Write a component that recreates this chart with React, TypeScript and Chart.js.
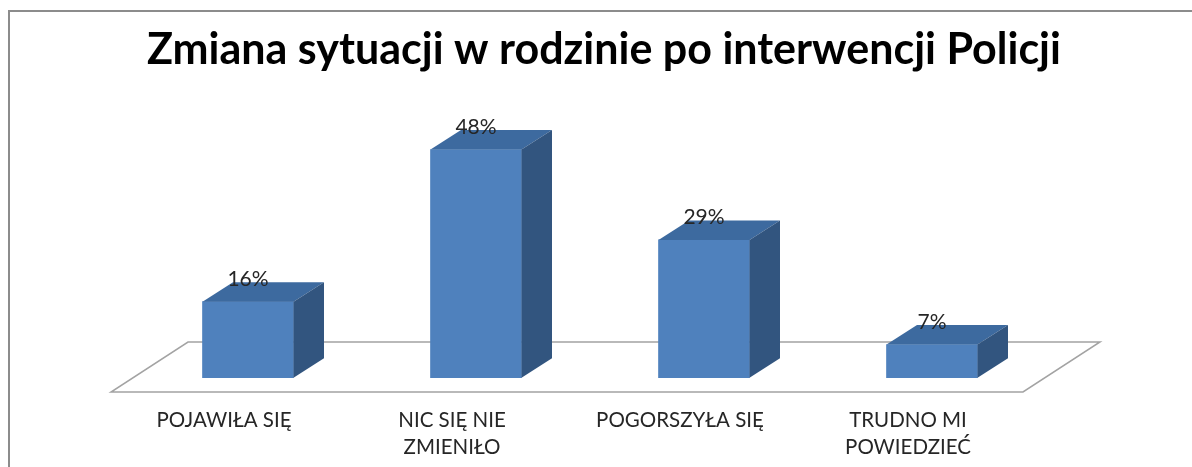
import React, { useEffect, useRef } from "react";
import { Chart, registerables } from "chart.js";

Chart.register(...registerables);

const chartTitle = "Zmiana sytuacji w rodzinie po interwencji Policji";
const categories: string[][] = [
  ["POJAWIŁA SIĘ"],
  ["NIC SIĘ NIE", "ZMIENIŁO"],
  ["POGORSZYŁA SIĘ"],
  ["TRUDNO MI", "POWIEDZIEĆ"],
];
const values: number[] = [16, 48, 29, 7];
const valueLabels: string[] = values.map((v) => `${v}%`);

const FRONT = "#4F81BD";
const TOP = "#3D6A9F";
const SIDE = "#32557F";
const DX = 30.5;
const DY = 19.5;

const bar3d = {
  id: "bar3d",
  beforeDraw(chart: any) {
    const ctx = chart.ctx;
    ctx.save();
    ctx.fillStyle = "#ffffff";
    ctx.fillRect(0, 0, chart.width, chart.height);
    ctx.strokeStyle = "#8c8c8c";
    ctx.lineWidth = 2;
    ctx.beginPath();
    ctx.moveTo(9, chart.height);
    ctx.lineTo(9, 11);
    ctx.lineTo(chart.width, 11);
    ctx.stroke();
    ctx.restore();
  },
  beforeDatasetsDraw(chart: any) {
    const ctx = chart.ctx;
    const { left, right, bottom } = chart.chartArea;
    ctx.save();
    ctx.beginPath();
    ctx.moveTo(left - 23, bottom);
    ctx.lineTo(right - 23, bottom);
    ctx.lineTo(right + 54, bottom - 50);
    ctx.lineTo(left + 54, bottom - 50);
    ctx.closePath();
    ctx.fillStyle = "#ffffff";
    ctx.fill();
    ctx.strokeStyle = "#a3a3a3";
    ctx.lineWidth = 1.5;
    ctx.stroke();
    ctx.restore();
  },
  afterDatasetsDraw(chart: any) {
    const ctx = chart.ctx;
    const meta = chart.getDatasetMeta(0);
    ctx.save();
    meta.data.forEach((bar: any, i: number) => {
      const { x, y, base, width } = bar.getProps(["x", "y", "base", "width"], true);
      const l = x - width / 2;
      const r = x + width / 2;
      ctx.beginPath();
      ctx.moveTo(l, y);
      ctx.lineTo(r, y);
      ctx.lineTo(r + DX, y - DY);
      ctx.lineTo(l + DX, y - DY);
      ctx.closePath();
      ctx.fillStyle = TOP;
      ctx.fill();
      ctx.beginPath();
      ctx.moveTo(r, y);
      ctx.lineTo(r + DX, y - DY);
      ctx.lineTo(r + DX, base - DY);
      ctx.lineTo(r, base);
      ctx.closePath();
      ctx.fillStyle = SIDE;
      ctx.fill();
      ctx.fillStyle = "#262626";
      ctx.font = "21px Lato, 'Open Sans', sans-serif";
      ctx.textAlign = "center";
      ctx.textBaseline = "middle";
      ctx.fillText(valueLabels[i], x, y - DY - 3);
    });
    ctx.restore();
  },
};

export default function App() {
  const ref = useRef<HTMLCanvasElement | null>(null);
  useEffect(() => {
    if (!ref.current) return;
    const chart = new Chart(ref.current, {
      type: "bar",
      data: {
        labels: categories,
        datasets: [
          {
            data: values,
            backgroundColor: FRONT,
            borderWidth: 0,
            barThickness: 91,
            yAxisID: "y",
          },
        ],
      },
      options: {
        responsive: false,
        animation: false,
        devicePixelRatio: 1,
        layout: { padding: { left: 16, right: 0, top: 0, bottom: 0 } },
        plugins: {
          legend: { display: false },
          tooltip: { enabled: false },
          title: {
            display: true,
            text: chartTitle,
            color: "#000000",
            font: { family: "Lato, 'Open Sans', sans-serif", size: 43, weight: "bold", lineHeight: 1.2 },
            padding: { top: 24, bottom: 64.5 },
          },
        },
        scales: {
          x: {
            type: "category",
            offset: true,
            grid: { display: false, drawTicks: false },
            border: { display: false },
            ticks: {
              color: "#262626",
              font: { family: "Lato, 'Open Sans', sans-serif", size: 20.5, lineHeight: 1.32 },
              padding: 15,
              labelOffset: -24,
              maxRotation: 0,
              minRotation: 0,
              autoSkip: false,
            },
            afterFit: (s: any) => {
              s.height = 75;
            },
          },
          y: {
            position: "left",
            min: -3,
            max: 50,
            display: true,
            grid: { display: false, drawTicks: false },
            border: { display: false },
            ticks: { display: false },
            afterFit: (s: any) => {
              s.width = 118;
            },
          },
          y2: {
            position: "right",
            display: true,
            grid: { display: false, drawTicks: false },
            border: { display: false },
            ticks: { display: false },
            afterFit: (s: any) => {
              s.width = 146;
            },
          },
        },
      },
      plugins: [bar3d],
    } as any);
    return () => chart.destroy();
  }, []);
  return (
    <div style={{ position: "absolute", left: 0, top: 0, width: 1192, height: 467 }}>
      <canvas ref={ref} width={1192} height={467} style={{ display: "block" }} />
    </div>
  );
}
